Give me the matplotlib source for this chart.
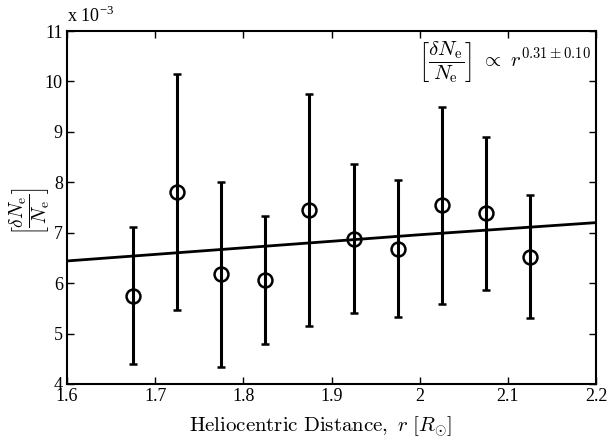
import matplotlib
matplotlib.use("Agg")
import matplotlib.pyplot as plt
import numpy as np

# Data (values in units of 1e-3)
r = [1.675, 1.725, 1.775, 1.825, 1.875, 1.925, 1.975, 2.025, 2.075, 2.125]
val = [5.75, 7.80, 6.18, 6.07, 7.45, 6.88, 6.68, 7.55, 7.40, 6.52]
err_hi = [7.12, 10.15, 8.00, 7.33, 9.75, 8.37, 8.05, 9.50, 8.90, 7.75]
err_lo = [4.40, 5.47, 4.34, 4.80, 5.15, 5.40, 5.32, 5.58, 5.87, 5.30]
fit_r = [1.6, 1.7, 1.8, 1.9, 2.0, 2.1, 2.2]
fit_val = [6.44, 6.57, 6.70, 6.83, 6.96, 7.08, 7.20]
xticks = [1.6, 1.7, 1.8, 1.9, 2.0, 2.1, 2.2]
xticklabels = ["1.6", "1.7", "1.8", "1.9", "2", "2.1", "2.2"]
yticks = [4, 5, 6, 7, 8, 9, 10, 11]

plt.rcParams['mathtext.fontset'] = 'cm'
plt.rcParams['font.family'] = ['Liberation Serif', 'DejaVu Serif']

fig = plt.figure(figsize=(6.10, 4.37), dpi=100)
ax = fig.add_axes([67/610, 1-384/437, (596-67)/610, (384-31)/437])

v = np.array(val)
yerr = [v - np.array(err_lo), np.array(err_hi) - v]
ax.errorbar(r, val, yerr=yerr, fmt='o', color='black', mfc='none', mec='black',
            ms=10, mew=1.8, elinewidth=2.2, capsize=3.2, capthick=2.2, zorder=3)
ax.plot(fit_r, fit_val, color='black', lw=2.0, zorder=2)

ax.set_xlim(1.6, 2.2)
ax.set_ylim(4, 11)
ax.set_xticks(xticks)
ax.set_xticklabels(xticklabels)
ax.set_yticks(yticks)
ax.set_yticklabels([str(t) for t in yticks])
ax.tick_params(direction='in', top=True, right=True, length=5, width=1,
               labelsize=13, pad=3)
for s in ax.spines.values():
    s.set_linewidth(1.5)

frac = r'\left[\dfrac{\delta N_{\mathrm{e}}}{N_{\mathrm{e}}}\right]'
ax.set_xlabel(r'$\mathrm{Heliocentric\ Distance,}\ r\ [R_{\odot}]$', fontsize=15)
ax.xaxis.set_label_coords((321 - 67) / 529, -(414 - 384) / 353)
ax.set_ylabel('$' + frac + '$', fontsize=14)
ax.yaxis.set_label_coords(-(67 - 52) / 529, 0.49)

ax.text(0.0, 1.015, r'x 10$^{\mathregular{-3}}$', transform=ax.transAxes,
        fontsize=13, ha='left', va='bottom')
ax.text(0.99, 0.975, '$' + frac + r'\ \propto\ r^{0.31\pm0.10}$',
        transform=ax.transAxes, fontsize=15, ha='right', va='top')

fig.savefig('out.png', dpi=100)
